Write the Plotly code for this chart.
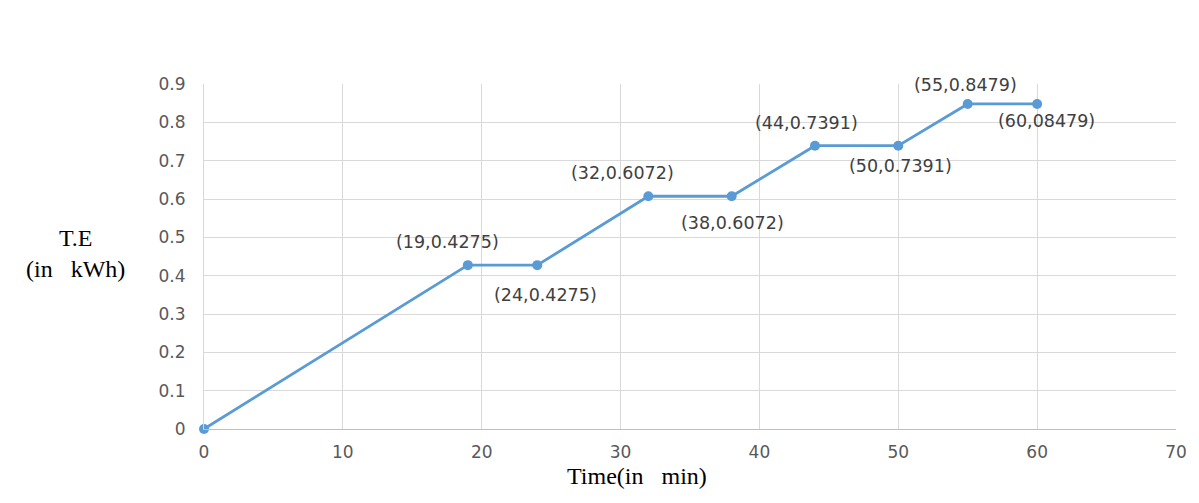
import plotly.graph_objects as go

# Cumulative energy over time
time_min = [0, 19, 24, 32, 38, 44, 50, 55, 60]
energy_kwh = [0, 0.4275, 0.4275, 0.6072, 0.6072, 0.7391, 0.7391, 0.8479, 0.8479]
point_labels = ["", "(19,0.4275)", "(24,0.4275)", "(32,0.6072)", "(38,0.6072)",
                "(44,0.7391)", "(50,0.7391)", "(55,0.8479)", "(60,08479)"]

# label offsets in pixels (x, y) relative to each point
label_offsets = [(0, 0), (-20, 23), (8, -30), (-26, 23), (1, -27),
                 (-8, 23), (2, -20), (-2, 19), (9, -17)]

line_color = "#5B9BD5"

fig = go.Figure()
fig.add_trace(go.Scatter(
    x=time_min, y=energy_kwh, mode="lines+markers",
    line=dict(color=line_color, width=2.8),
    marker=dict(color=line_color, size=10),
    showlegend=False, hoverinfo="x+y", cliponaxis=False,
))

for xv, yv, txt, (dx, dy) in zip(time_min, energy_kwh, point_labels, label_offsets):
    if not txt:
        continue
    fig.add_annotation(
        x=xv, y=yv, text=txt, showarrow=False,
        xshift=dx, yshift=dy,
        font=dict(family="DejaVu Sans, sans-serif", size=17.5, color="#404040"),
    )

serif = "Liberation Serif, Times New Roman, serif"

# axis titles
fig.add_annotation(
    xref="paper", yref="paper", x=-0.1327, y=0.508,
    xanchor="center", yanchor="middle",
    text="T.E<br>(in&nbsp;&nbsp;&nbsp;kWh)", showarrow=False, align="center",
    font=dict(family=serif, size=24, color="#000000"),
)
fig.add_annotation(
    xref="paper", yref="paper", x=0.4455, y=-0.136,
    xanchor="center", yanchor="middle",
    text="Time(in&nbsp;&nbsp;&nbsp;min)", showarrow=False,
    font=dict(family=serif, size=24, color="#000000"),
)

tick_font = dict(family="DejaVu Sans, sans-serif", size=17, color="#595959")

fig.update_xaxes(
    range=[0, 70], dtick=10, tick0=0,
    showgrid=True, gridcolor="#D9D9D9", gridwidth=1,
    showline=True, linecolor="#BFBFBF", linewidth=1,
    zeroline=False, ticks="outside", ticklen=8, tickcolor="rgba(0,0,0,0)",
    tickfont=tick_font,
)
fig.update_yaxes(
    range=[0, 0.9], dtick=0.1, tick0=0,
    showgrid=True, gridcolor="#D9D9D9", gridwidth=1,
    showline=True, linecolor="#D9D9D9", linewidth=1,
    zeroline=False, ticks="outside", ticklen=14, tickcolor="rgba(0,0,0,0)",
    tickfont=tick_font, tickformat="~g",
)

fig.update_layout(
    width=1199, height=503,
    margin=dict(l=204, r=23, t=84, b=74),
    plot_bgcolor="white", paper_bgcolor="white",
)

fig.write_html("out.html")
